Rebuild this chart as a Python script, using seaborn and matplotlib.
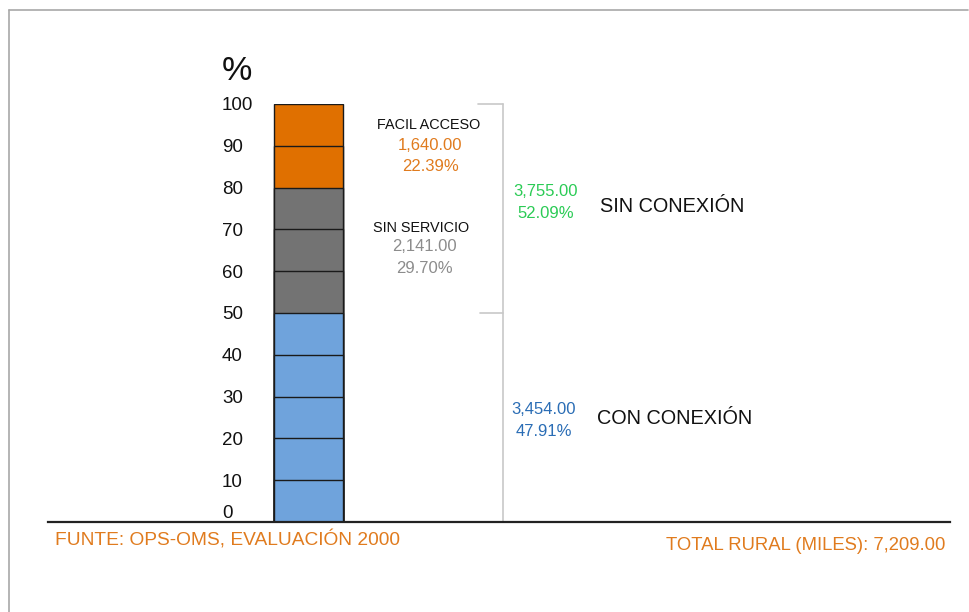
import matplotlib
matplotlib.use("Agg")
import matplotlib.pyplot as plt
from matplotlib.lines import Line2D
import seaborn as sns
import pandas as pd

# ---- data ----
groups = ["CON CONEXIÓN", "SIN SERVICIO", "FACIL ACCESO"]
bar_heights = [50, 30, 20]            # drawn share of the bar (%)
block_size = 10                        # bar is split in blocks of 10 %
miles = [3454.00, 2141.00, 1640.00]
pcts = [47.91, 29.70, 22.39]
sin_conexion_miles = 3755.00
sin_conexion_pct = 52.09
total_rural = 7209.00
yticks = list(range(0, 101, 10))
fuente = "FUNTE: OPS-OMS, EVALUACIÓN 2000"

bar_colors = ["#6FA3DC", "#737373", "#E07000"]
text_colors = ["#2A6DB5", "#8C8C8C", "#E07B1E"]
green = "#2BCB55"
orange_txt = "#E07B1E"

sns.set_theme(style="white")
plt.rcParams["font.family"] = ["Liberation Sans", "DejaVu Sans"]

W, H = 969, 612
fig = plt.figure(figsize=(W / 100, H / 100), dpi=100)
ax_l, ax_r, ax_t, ax_b = 48, 950, 104, 522
ax = fig.add_axes([ax_l / W, 1 - ax_b / H, (ax_r - ax_l) / W, (ax_b - ax_t) / H])

# blocks: cumulative tops, drawn tallest first
blocks = []
bottom = 0
for g, h, c in zip(groups, bar_heights, bar_colors):
    for k in range(h // block_size):
        bottom += block_size
        blocks.append({"top": bottom, "color": c})
blocks_df = pd.DataFrame(blocks).sort_values("top", ascending=False)

bar_w = 0.8
for _, row in blocks_df.iterrows():
    sns.barplot(x=["x"], y=[row["top"]], color=row["color"], saturation=1,
                width=bar_w, edgecolor="#1a1a1a", linewidth=1.0, ax=ax)

# x-scale: bar center at pixel 308.5, width 69 px
ppu = 69 / bar_w
def px2x(px):
    return (px - 308.5) / ppu
def py2y(py):
    return (ax_b - py) / (ax_b - ax_t) * 100

ax.set_xlim(px2x(ax_l), px2x(ax_r))
ax.set_ylim(0, 100)

ax.set_xlabel("")
ax.set_ylabel("")
ax.set_xticks([])
ax.set_yticks(yticks)
ax.set_yticklabels([str(t) for t in yticks])
ax.tick_params(axis="y", length=0, pad=0, labelsize=13.5, labelcolor="#111111")
for s in ["top", "right", "left"]:
    ax.spines[s].set_visible(False)
ax.spines["left"].set_position(("data", px2x(222)))
ax.spines["bottom"].set_color("#222222")
ax.spines["bottom"].set_linewidth(1.6)

# "%" header
ax.text(px2x(237), py2y(72), "%", fontsize=24.5, ha="center", va="center",
        color="#111111", clip_on=False)

# bracket
br = "#C8C8C8"
ax.plot([px2x(503), px2x(503)], [0, 100], color=br, lw=1.2, clip_on=False)
ax.plot([px2x(478), px2x(503)], [100, 100], color=br, lw=1.2, clip_on=False)
ax.plot([px2x(480), px2x(503)], [50, 50], color=br, lw=1.2, clip_on=False)

# segment labels
ax.text(px2x(429), py2y(125), groups[2], fontsize=10.4, ha="center", va="center", color="#111111")
ax.text(px2x(430), py2y(146), f"{miles[2]:,.2f}", fontsize=12, ha="center", va="center", color=text_colors[2])
ax.text(px2x(430), py2y(167), f"{pcts[2]:.2f}%", fontsize=12, ha="center", va="center", color=text_colors[2])

ax.text(px2x(421), py2y(228), groups[1], fontsize=10.4, ha="center", va="center", color="#111111")
ax.text(px2x(424), py2y(247), f"{miles[1]:,.2f}", fontsize=12, ha="center", va="center", color=text_colors[1])
ax.text(px2x(424), py2y(269), f"{pcts[1]:.2f}%", fontsize=12, ha="center", va="center", color=text_colors[1])

ax.text(px2x(546), py2y(192), f"{sin_conexion_miles:,.2f}", fontsize=12, ha="center", va="center", color=green)
ax.text(px2x(546), py2y(214), f"{sin_conexion_pct:.2f}%", fontsize=12, ha="center", va="center", color=green)
ax.text(px2x(600), py2y(207), "SIN CONEXIÓN", fontsize=14.3, ha="left", va="center", color="#111111")

ax.text(px2x(544), py2y(409), f"{miles[0]:,.2f}", fontsize=12, ha="center", va="center", color=text_colors[0])
ax.text(px2x(544), py2y(431), f"{pcts[0]:.2f}%", fontsize=12, ha="center", va="center", color=text_colors[0])
ax.text(px2x(597), py2y(418), groups[0], fontsize=14.3, ha="left", va="center", color="#111111")

# footers
fig.text(55 / W, 1 - 540 / H, fuente, fontsize=13.8, ha="left", va="center", color=orange_txt)
fig.text(945 / W, 1 - 545 / H, f"TOTAL RURAL (MILES): {total_rural:,.2f}", fontsize=13.3,
         ha="right", va="center", color=orange_txt)

# figure frame (top and left)
fig.add_artist(Line2D([9 / W, 968 / W], [1 - 10 / H, 1 - 10 / H], color="#A8A8A8", lw=1.2,
                      transform=fig.transFigure))
fig.add_artist(Line2D([9 / W, 9 / W], [1 - 10 / H, 0], color="#A8A8A8", lw=1.2,
                      transform=fig.transFigure))

fig.canvas.draw()
labs = ax.get_yticklabels()
for lab in labs:
    lab.set_horizontalalignment("left")
labs[0].set_verticalalignment("bottom")

fig.savefig("out.png", dpi=100)
